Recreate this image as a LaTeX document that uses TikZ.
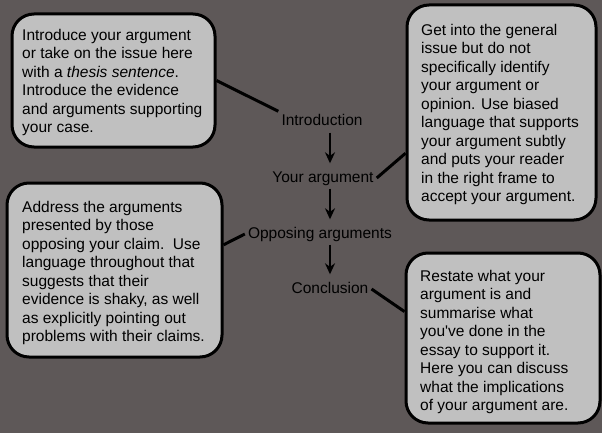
\documentclass[tikz,border=0pt]{standalone}
\usepackage{fontspec}
\setmainfont{Liberation Sans}
\usetikzlibrary{arrows.meta}
\definecolor{bgc}{HTML}{5E5858}
\definecolor{boxc}{HTML}{C0C0C0}
\begin{document}
\begin{tikzpicture}[x=1pt,y=-1pt,
  bubble/.style={draw=black, fill=boxc, line width=3pt, rounded corners=22pt, inner sep=0pt},
  bubtext/.style={anchor=north west, align=left, inner sep=0pt, font=\fontsize{15.5}{18.5}\selectfont},
  lbl/.style={anchor=base, inner sep=3pt, text height=11.5pt, text depth=3.5pt, font=\fontsize{15.5}{18.5}\selectfont},
  flow/.style={-{Stealth[length=11pt,width=10pt]}, line width=1.8pt, shorten >=4pt},
  link/.style={line width=3pt}]
\fill[bgc] (0,0) rectangle (602,433);
\useasboundingbox (0,0) rectangle (602,433);
% boxes
\node[bubble, minimum width=203pt, minimum height=133pt] (b1) at (113.5,80.5) {};
\node[bubble, minimum width=189pt, minimum height=215pt] (b2) at (501.5,112.5) {};
\node[bubble, minimum width=215pt, minimum height=174pt] (b3) at (114.5,270) {};
\node[bubble, minimum width=194pt, minimum height=170pt] (b4) at (503,338) {};
% texts
\node[bubtext] (t1) at (22,29) {Introduce your argument\\or take on the issue here\\with a \textit{thesis sentence}.\\Introduce the evidence\\and arguments supporting\\your case.};
\node[bubtext] (t2) at (421,24) {Get into the general\\issue but do not\\specifically identify\\your argument or\\opinion. Use biased\\language that supports\\your argument subtly\\and puts your reader\\in the right frame to\\accept your argument.};
\node[bubtext] (t3) at (22,201) {Address the arguments\\presented by those\\opposing your claim.\ \ Use\\language throughout that\\suggests that their\\evidence is shaky, as well\\as explicitly pointing out\\problems with their claims.};
\node[bubtext] (t4) at (420,270) {Restate what your\\argument is and\\summarise what\\you\textquotesingle ve done in the\\essay to support it.\\Here you can discuss\\what the implications\\of your argument are.};
% labels
\node[lbl] (intro) at (322,126) {Introduction};
\node[lbl] (your) at (323,182) {Your argument};
\node[lbl] (opp) at (320,238) {Opposing arguments};
\node[lbl] (concl) at (330,293) {Conclusion};
\coordinate (ax) at (330,0);
% flow arrows
\draw[flow] (intro.south -| ax) -- (your.north -| ax);
\draw[flow] (your.south -| ax) -- (opp.north -| ax);
\draw[flow] (opp.south -| ax) -- (concl.north -| ax);
% links
\draw[link] (b1.east) -- (intro.north west);
\draw[link] (your.east) -- (b2.203);
\draw[link] (b3.13) -- (opp.west);
\draw[link] (concl.east) -- (b4.165);
\end{tikzpicture}
\end{document}
